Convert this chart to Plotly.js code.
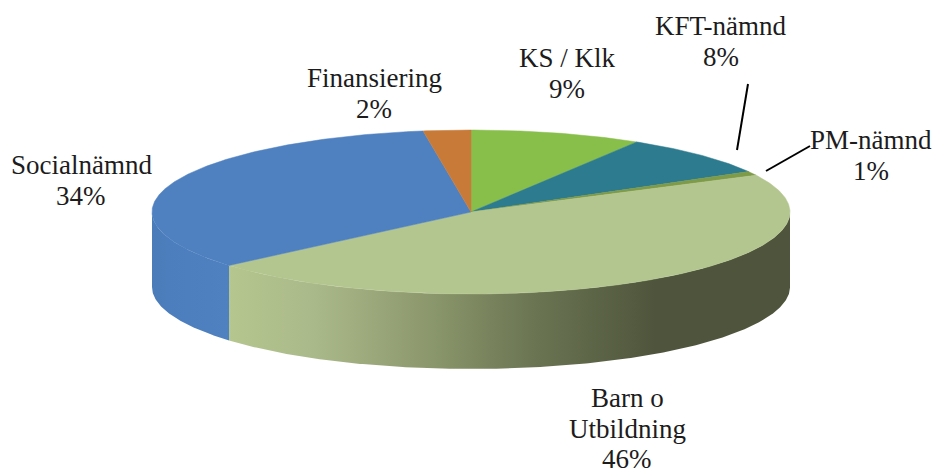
<!DOCTYPE html>
<html><head><meta charset="utf-8">
<script src="https://cdn.plot.ly/plotly-3.0.1.min.js"></script>
<style>html,body{margin:0;padding:0;background:#fff}#c{width:936px;height:475px}</style>
</head><body><div id="c"></div>
<script>
// data (shares in %, clockwise from 12 o'clock)
const categories = ["KS / Klk","KFT-nämnd","PM-nämnd","Barn o Utbildning","Socialnämnd","Finansiering"];
const shares = [8.7,8.1,0.8,46.1,33.9,2.4];
const colors = ["#88BF4B","#2C7B8E","#7E9B49","#B4C68F","#4F81C1","#C87B38"];
const labelX = [567,721,871,627,81,374];
const labelY = [58,26,140,398,165,78];

// pie projection
const cx=471, cy=212, rx=319, ry=82, depth=75, lineGap=30.5;
const px=a=>cx+rx*Math.sin(a*Math.PI/180), py=a=>cy-ry*Math.cos(a*Math.PI/180);
const sideGrad = {
  "Barn o Utbildning":{cs:[[0,"#B5C68E"],[0.2,"#AAB98A"],[0.45,"#8E9A6E"],[0.72,"#6A7452"],[1,"#4F553C"]],start:229,stop:655},
  "Socialnämnd":{cs:[[0,"#4A7CB9"],[0.2,"#4C7EBD"],[1,"#4F81C1"]],start:152,stop:229}
};
const traces=[], tops=[];
let acc=0;
shares.forEach((s,i)=>{
  const a0=acc*3.6, a1=(acc+s)*3.6; acc+=s;
  const n=Math.max(2,Math.ceil((a1-a0)/0.5));
  const xs=[cx], ys=[cy];
  for(let k=0;k<=n;k++){const a=a0+(a1-a0)*k/n; xs.push(px(a)); ys.push(py(a));}
  xs.push(cx); ys.push(cy);
  tops.push({type:"scatter",mode:"lines",x:xs,y:ys,fill:"toself",fillcolor:colors[i],line:{width:0.5,color:colors[i]},hoverinfo:"skip",showlegend:false});
  const b0=Math.max(a0,90), b1=Math.min(a1,270);
  if(b1>b0 && sideGrad[categories[i]]){
    const m=Math.ceil((b1-b0)/0.5), sx=[], sy=[];
    for(let k=0;k<=m;k++){const a=b0+(b1-b0)*k/m; sx.push(px(a)); sy.push(py(a));}
    for(let k=m;k>=0;k--){const a=b0+(b1-b0)*k/m; sx.push(px(a)); sy.push(py(a)+depth);}
    sx.push(sx[0]); sy.push(sy[0]);
    const g=sideGrad[categories[i]];
    traces.push({type:"scatter",mode:"lines",x:sx,y:sy,fill:"toself",line:{width:0},
      fillgradient:{type:"horizontal",colorscale:g.cs,start:g.start,stop:g.stop},hoverinfo:"skip",showlegend:false});
  }
});
const annotations=[];
categories.forEach((c,i)=>{
  const lines=c.replace(" o "," o\n").split("\n").concat(Math.round(shares[i])+"%");
  lines.forEach((t,j)=>annotations.push({
    x:labelX[i],y:labelY[i]+j*lineGap,xref:"x",yref:"y",xanchor:"center",yanchor:"middle",showarrow:false,align:"center",
    text:t,font:{family:"Liberation Serif, serif",size:27,color:"#1c1c1c"}
  }));
});
const leader=(x0,y0,x1,y1)=>({type:"line",xref:"x",yref:"y",x0,y0,x1,y1,line:{color:"#000",width:2}});
Plotly.newPlot("c",[...traces,...tops],{
  width:936,height:475,margin:{l:0,r:0,t:0,b:0},paper_bgcolor:"#fff",plot_bgcolor:"#fff",
  xaxis:{range:[0,936],visible:false,fixedrange:true},
  yaxis:{range:[475,0],visible:false,fixedrange:true},
  annotations,
  shapes:[leader(748,84,737,150),leader(766,171,810,146)]
},{displayModeBar:false,staticPlot:true});
</script></body></html>
